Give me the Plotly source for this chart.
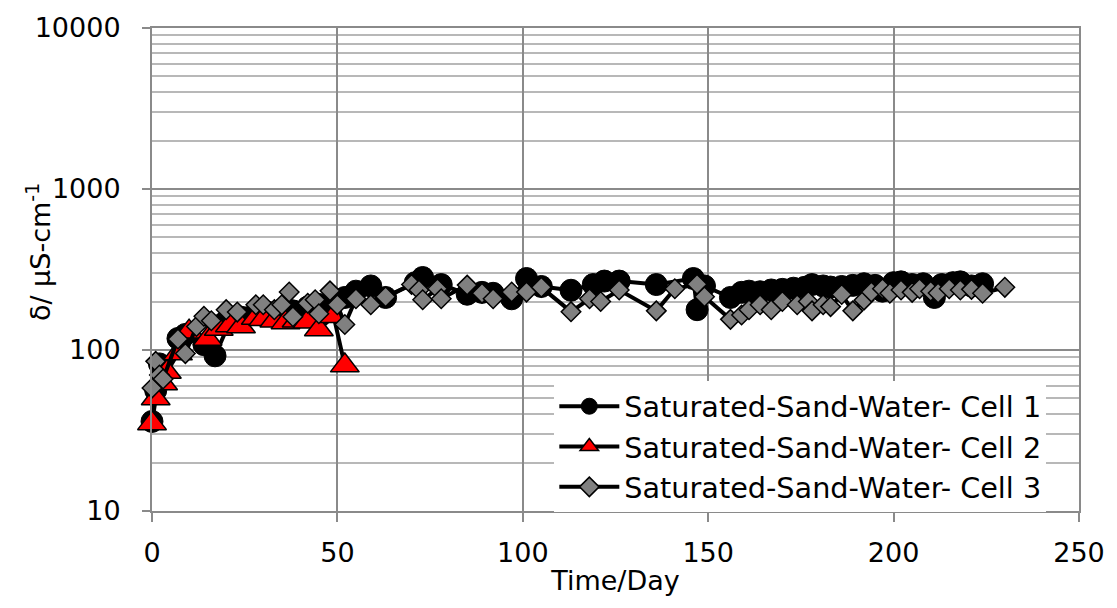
import plotly.graph_objects as go

# Conductivity time series for three saturated sand-water cells
days_cell1 = [0, 1, 2, 3, 7, 9, 14, 17, 21, 24, 28, 31, 35, 38, 42, 45, 49, 52, 55, 59,
              63, 71, 73, 78, 85, 89, 92, 97, 101, 105, 113, 119, 122, 126, 136, 146, 147,
              149, 156, 159, 161, 164, 167, 170, 173, 176, 178, 181, 183, 186, 189, 192,
              195, 197, 200, 202, 205, 208, 211, 213, 216, 218, 221, 224]
cond_cell1 = [36, 56, 82, 72, 118, 125, 108, 92, 150, 160, 168, 172, 178, 175, 185, 192, 198, 212, 232, 250,
              212, 262, 282, 255, 222, 228, 225, 208, 278, 248, 235, 255, 268, 268, 255, 278, 178,
              250, 212, 228, 232, 230, 236, 238, 242, 245, 255, 250, 246, 248, 252, 258,
              252, 232, 262, 265, 255, 258, 212, 255, 262, 265, 250, 258]

days_cell2 = [0, 1, 3, 4, 7, 10, 15, 18, 21, 24, 28, 30, 33, 36, 39, 42, 45, 49, 52]
cond_cell2 = [35, 50, 62, 73, 95, 130, 117, 135, 142, 140, 158, 155, 152, 148, 152, 150, 134, 162, 80]

days_cell3 = [0, 1, 2, 3, 7, 9, 12, 14, 16, 20, 23, 28, 30, 33, 35, 37, 38, 42, 44, 45,
              48, 50, 52, 55, 59, 63, 70, 72, 73, 77, 78, 85, 89, 92, 97, 101, 105, 113,
              118, 121, 126, 136, 141, 147, 149, 156, 159, 161, 164, 167, 170, 174, 177,
              178, 181, 183, 186, 189, 192, 194, 197, 199, 202, 205, 207, 210, 212, 215,
              218, 221, 224, 230]
cond_cell3 = [58, 85, 70, 66, 117, 95, 140, 162, 152, 178, 172, 191, 191, 178, 191, 229, 161, 195, 205, 168,
              233, 191, 144, 208, 191, 214, 255, 236, 205, 240, 208, 253, 225, 208, 229, 229, 245, 173,
              208, 200, 236, 175, 240, 256, 214, 155, 165, 178, 191, 178, 200, 191, 200,
              175, 191, 186, 221, 175, 204, 229, 240, 225, 236, 228, 240, 232, 226, 240,
              236, 238, 225, 245]

series_names = ["Saturated-Sand-Water- Cell 1",
                "Saturated-Sand-Water- Cell 2",
                "Saturated-Sand-Water- Cell 3"]

y_tick_values = [10, 100, 1000, 10000]
y_tick_labels = ["10", "100", "1000", "10000"]
x_tick_values = [0, 50, 100, 150, 200, 250]

FONT = "DejaVu Sans"
GRID_MAJOR = "#8a8a8a"
GRID_MINOR = "#b8b8b8"

fig = go.Figure()

fig.add_trace(go.Scatter(
    x=days_cell1, y=cond_cell1, mode="lines+markers", name=series_names[0],
    line=dict(color="black", width=4),
    marker=dict(symbol="circle", size=22, color="black", line=dict(color="black", width=1)),
    cliponaxis=False,
))
fig.add_trace(go.Scatter(
    x=days_cell2, y=cond_cell2, mode="lines+markers", name=series_names[1],
    line=dict(color="black", width=4),
    marker=dict(symbol="triangle-up", size=25, color="#ff0000", line=dict(color="black", width=1.5)),
    cliponaxis=False,
))
fig.add_trace(go.Scatter(
    x=days_cell3, y=cond_cell3, mode="lines+markers", name=series_names[2],
    line=dict(color="black", width=4),
    marker=dict(symbol="diamond", size=15, color="#808080", line=dict(color="black", width=1.5)),
    cliponaxis=False,
))

fig.update_layout(
    width=1117, height=608,
    margin=dict(l=152, r=35, t=24, b=97),
    plot_bgcolor="white", paper_bgcolor="white",
    font=dict(family=FONT, size=27, color="black"),
    legend=dict(
        x=0.434, y=0.269, xanchor="left", yanchor="top",
        bgcolor="white", borderwidth=0,
        font=dict(family=FONT, size=28.7, color="black"),
        itemsizing="trace", itemwidth=60,
    ),
    annotations=[dict(
        text="δ/ µS-cm<sup>-1</sup>", textangle=-90,
        xref="paper", yref="paper", x=-0.123, y=0.536,
        xanchor="center", yanchor="middle", showarrow=False,
        font=dict(family=FONT, size=27, color="black"),
    )],
)

fig.update_xaxes(
    range=[0, 250], tickvals=x_tick_values,
    showgrid=True, gridcolor=GRID_MAJOR, gridwidth=2,
    showline=True, linecolor=GRID_MAJOR, linewidth=2, mirror=True,
    ticks="outside", ticklen=9, tickwidth=2, tickcolor=GRID_MAJOR,
    ticklabelstandoff=8,
    zeroline=False,
    title=dict(text="Time/Day", standoff=4, font=dict(family=FONT, size=27)),
)
fig.update_yaxes(
    type="log", range=[1, 4],
    tickvals=y_tick_values, ticktext=y_tick_labels,
    showgrid=True, gridcolor=GRID_MAJOR, gridwidth=2,
    minor=dict(dtick="D1", showgrid=True, gridcolor=GRID_MINOR, gridwidth=2, ticks=""),
    showline=True, linecolor=GRID_MAJOR, linewidth=2, mirror=True,
    ticks="outside", ticklen=8, tickwidth=2, tickcolor=GRID_MAJOR,
    ticklabelstandoff=16,
    zeroline=False,
)

fig.write_html("out.html")
